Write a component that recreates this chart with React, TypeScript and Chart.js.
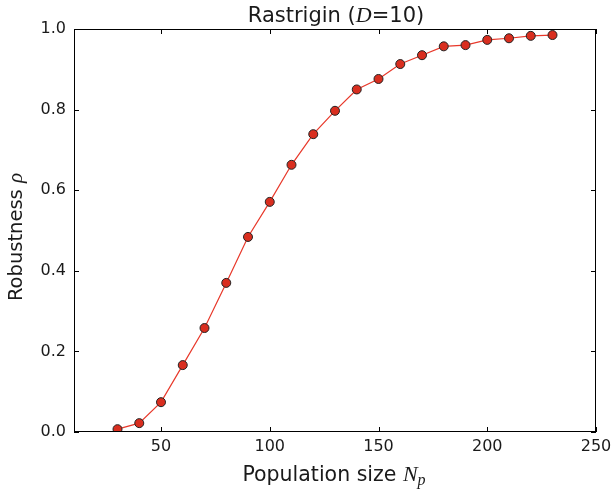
import React, { useEffect, useRef } from "react";
import { Chart, registerables } from "chart.js";

Chart.register(...registerables);

const popSizes = [30, 40, 50, 60, 70, 80, 90, 100, 110, 120, 130, 140, 150, 160, 170, 180, 190, 200, 210, 220, 230];
const robustness = [0.007, 0.022, 0.074, 0.166, 0.258, 0.370, 0.484, 0.571, 0.663, 0.739, 0.797, 0.850, 0.876, 0.913, 0.935, 0.957, 0.960, 0.973, 0.977, 0.983, 0.985];
const xTicks = [50, 100, 150, 200, 250];
const yTicks = [0, 0.2, 0.4, 0.6, 0.8, 1.0];

const FONT = "'DejaVu Sans', sans-serif";
const MATH = "'Liberation Serif', 'DejaVu Serif', serif";

type Part = { text: string; font: string; dy?: number };

function drawRich(ctx: CanvasRenderingContext2D, parts: Part[], cx: number, baseline: number) {
  let total = 0;
  const widths = parts.map((p) => {
    ctx.font = p.font;
    const w = ctx.measureText(p.text).width;
    total += w;
    return w;
  });
  let x = cx - total / 2;
  ctx.textAlign = "left";
  ctx.textBaseline = "alphabetic";
  parts.forEach((p, i) => {
    ctx.font = p.font;
    ctx.fillText(p.text, x, baseline + (p.dy || 0));
    x += widths[i];
  });
}

const decorPlugin = {
  id: "decor",
  afterDraw(chart: any) {
    const ctx: CanvasRenderingContext2D = chart.ctx;
    const { left, right, top, bottom } = chart.chartArea;
    const xs = chart.scales.x;
    const ys = chart.scales.y;
    ctx.save();
    ctx.strokeStyle = "#000";
    ctx.lineWidth = 1;
    ctx.strokeRect(left + 0.5, top + 0.5, right - left - 1, bottom - top - 1);
    const tl = 5;
    ctx.beginPath();
    xTicks.forEach((v) => {
      const px = Math.round(xs.getPixelForValue(v)) + 0.5;
      ctx.moveTo(px, bottom);
      ctx.lineTo(px, bottom - tl);
      ctx.moveTo(px, top);
      ctx.lineTo(px, top + tl);
    });
    yTicks.forEach((v) => {
      const py = Math.round(ys.getPixelForValue(v)) + 0.5;
      ctx.moveTo(left, py);
      ctx.lineTo(left + tl, py);
      ctx.moveTo(right, py);
      ctx.lineTo(right - tl, py);
    });
    ctx.stroke();

    ctx.fillStyle = "#1a1a1a";
    const cx = (left + right) / 2;
    drawRich(
      ctx,
      [
        { text: "Rastrigin (", font: `21px ${FONT}` },
        { text: "D", font: `italic 22px ${MATH}` },
        { text: "=10)", font: `21px ${FONT}` },
      ],
      cx + 1,
      21.5
    );
    drawRich(
      ctx,
      [
        { text: "Population size ", font: `20.5px ${FONT}` },
        { text: "N", font: `italic 22px ${MATH}` },
        { text: "p", font: `italic 16px ${MATH}`, dy: 4 },
      ],
      cx - 1,
      480.5
    );
    ctx.save();
    ctx.translate(22, 237);
    ctx.rotate(-Math.PI / 2);
    drawRich(
      ctx,
      [
        { text: "Robustness ", font: `19.5px ${FONT}` },
        { text: "ρ", font: `italic 21px ${MATH}` },
      ],
      0,
      0
    );
    ctx.restore();
    ctx.restore();
  },
};

export default function App() {
  const ref = useRef<HTMLCanvasElement | null>(null);
  useEffect(() => {
    if (!ref.current) return;
    const chart = new Chart(ref.current, {
      type: "line",
      data: {
        datasets: [
          {
            data: popSizes.map((x, i) => ({ x, y: robustness[i] })),
            borderColor: "#e8382a",
            borderWidth: 1.2,
            pointBackgroundColor: "#d92e1f",
            pointBorderColor: "#222",
            pointBorderWidth: 1,
            pointRadius: 4.5,
            tension: 0,
            fill: false,
          },
        ],
      },
      options: {
        animation: false,
        responsive: false,
        layout: { padding: { top: 29, right: 17, left: 0, bottom: 0 } },
        plugins: { legend: { display: false }, title: { display: false }, tooltip: { enabled: false } },
        scales: {
          x: {
            type: "linear",
            min: 10,
            max: 250,
            afterBuildTicks: (s: any) => {
              s.ticks = xTicks.map((v) => ({ value: v }));
            },
            afterFit: (s: any) => {
              s.height = 62;
              s.paddingLeft = 0;
              s.paddingRight = 0;
            },
            grid: { display: false, drawTicks: false },
            border: { display: false },
            ticks: { font: { family: FONT, size: 16 }, color: "#1a1a1a", padding: 5, maxRotation: 0 },
          },
          y: {
            type: "linear",
            min: 0,
            max: 1,
            afterBuildTicks: (s: any) => {
              s.ticks = yTicks.map((v) => ({ value: v }));
            },
            afterFit: (s: any) => {
              s.width = 74;
              s.paddingTop = 0;
              s.paddingBottom = 0;
            },
            grid: { display: false, drawTicks: false },
            border: { display: false },
            ticks: {
              font: { family: FONT, size: 16 },
              color: "#1a1a1a",
              padding: 8,
              callback: (v: any) => Number(v).toFixed(1),
            },
          },
        },
      },
      plugins: [decorPlugin],
    });
    return () => chart.destroy();
  }, []);
  return (
    <div style={{ position: "fixed", left: 0, top: 0, width: 613, height: 494, background: "#fff" }}>
      <canvas ref={ref} width={613} height={494} style={{ display: "block" }} />
    </div>
  );
}
